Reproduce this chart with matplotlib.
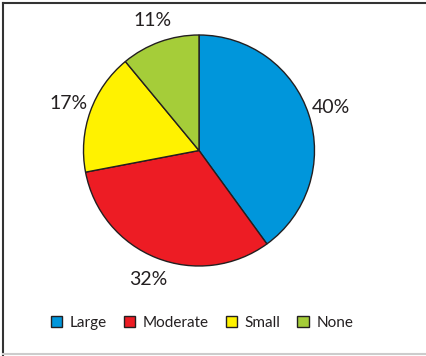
import matplotlib
matplotlib.use("Agg")
import matplotlib.pyplot as plt
from matplotlib.lines import Line2D
from matplotlib.patches import Patch

# ---- data ----
categories = ["Large", "Moderate", "Small", "None"]
shares = [40, 32, 17, 11]
colors = ["#0096db", "#ed1c24", "#fff200", "#a5cd39"]

W, H = 426, 356
CX, CY, R = 199, 150.5, 115.5   # pie centre / radius in pixels

plt.rcParams["font.family"] = ["Lato", "DejaVu Sans"]

fig = plt.figure(figsize=(W / 100, H / 100), dpi=100)
fig.patch.set_facecolor("white")

ax = fig.add_axes([(CX - R) / W, (H - CY - R) / H, 2 * R / W, 2 * R / H])
wedges, texts = ax.pie(
    shares,
    colors=colors,
    startangle=90,
    counterclock=False,
    radius=1.0,
    labels=[f"{v}%" for v in shares],
    labeldistance=1.2,
    wedgeprops=dict(edgecolor="#231f20", linewidth=1.0),
    textprops=dict(fontsize=14, color="#231f20"),
)
for t in texts:
    t.set_horizontalalignment("center")
    t.set_verticalalignment("center")
ax.set_xlim(-1, 1)
ax.set_ylim(-1, 1)
ax.set_aspect("equal")
ax.axis("off")

handles = [Patch(facecolor=c, edgecolor="#231f20", linewidth=1.0) for c in colors]
fig.legend(
    handles, categories,
    loc="center", bbox_to_anchor=(202 / W, 1 - 323 / H),
    ncol=4, frameon=False, fontsize=11,
    handlelength=0.75, handleheight=0.75,
    handletextpad=0.5, columnspacing=1.1,
    labelcolor="#231f20",
)

# frame around the figure
fig.add_artist(Line2D([2.5 / W, 2.5 / W], [0.5 / H, 1 - 2.5 / H], color="#333333", lw=1.5))
fig.add_artist(Line2D([2.5 / W, 1], [1 - 2.5 / H, 1 - 2.5 / H], color="#333333", lw=1.5))
fig.add_artist(Line2D([2.5 / W, 1], [2.5 / H, 2.5 / H], color="#cccccc", lw=1.5))

fig.savefig("out.png", dpi=100, facecolor="white")
